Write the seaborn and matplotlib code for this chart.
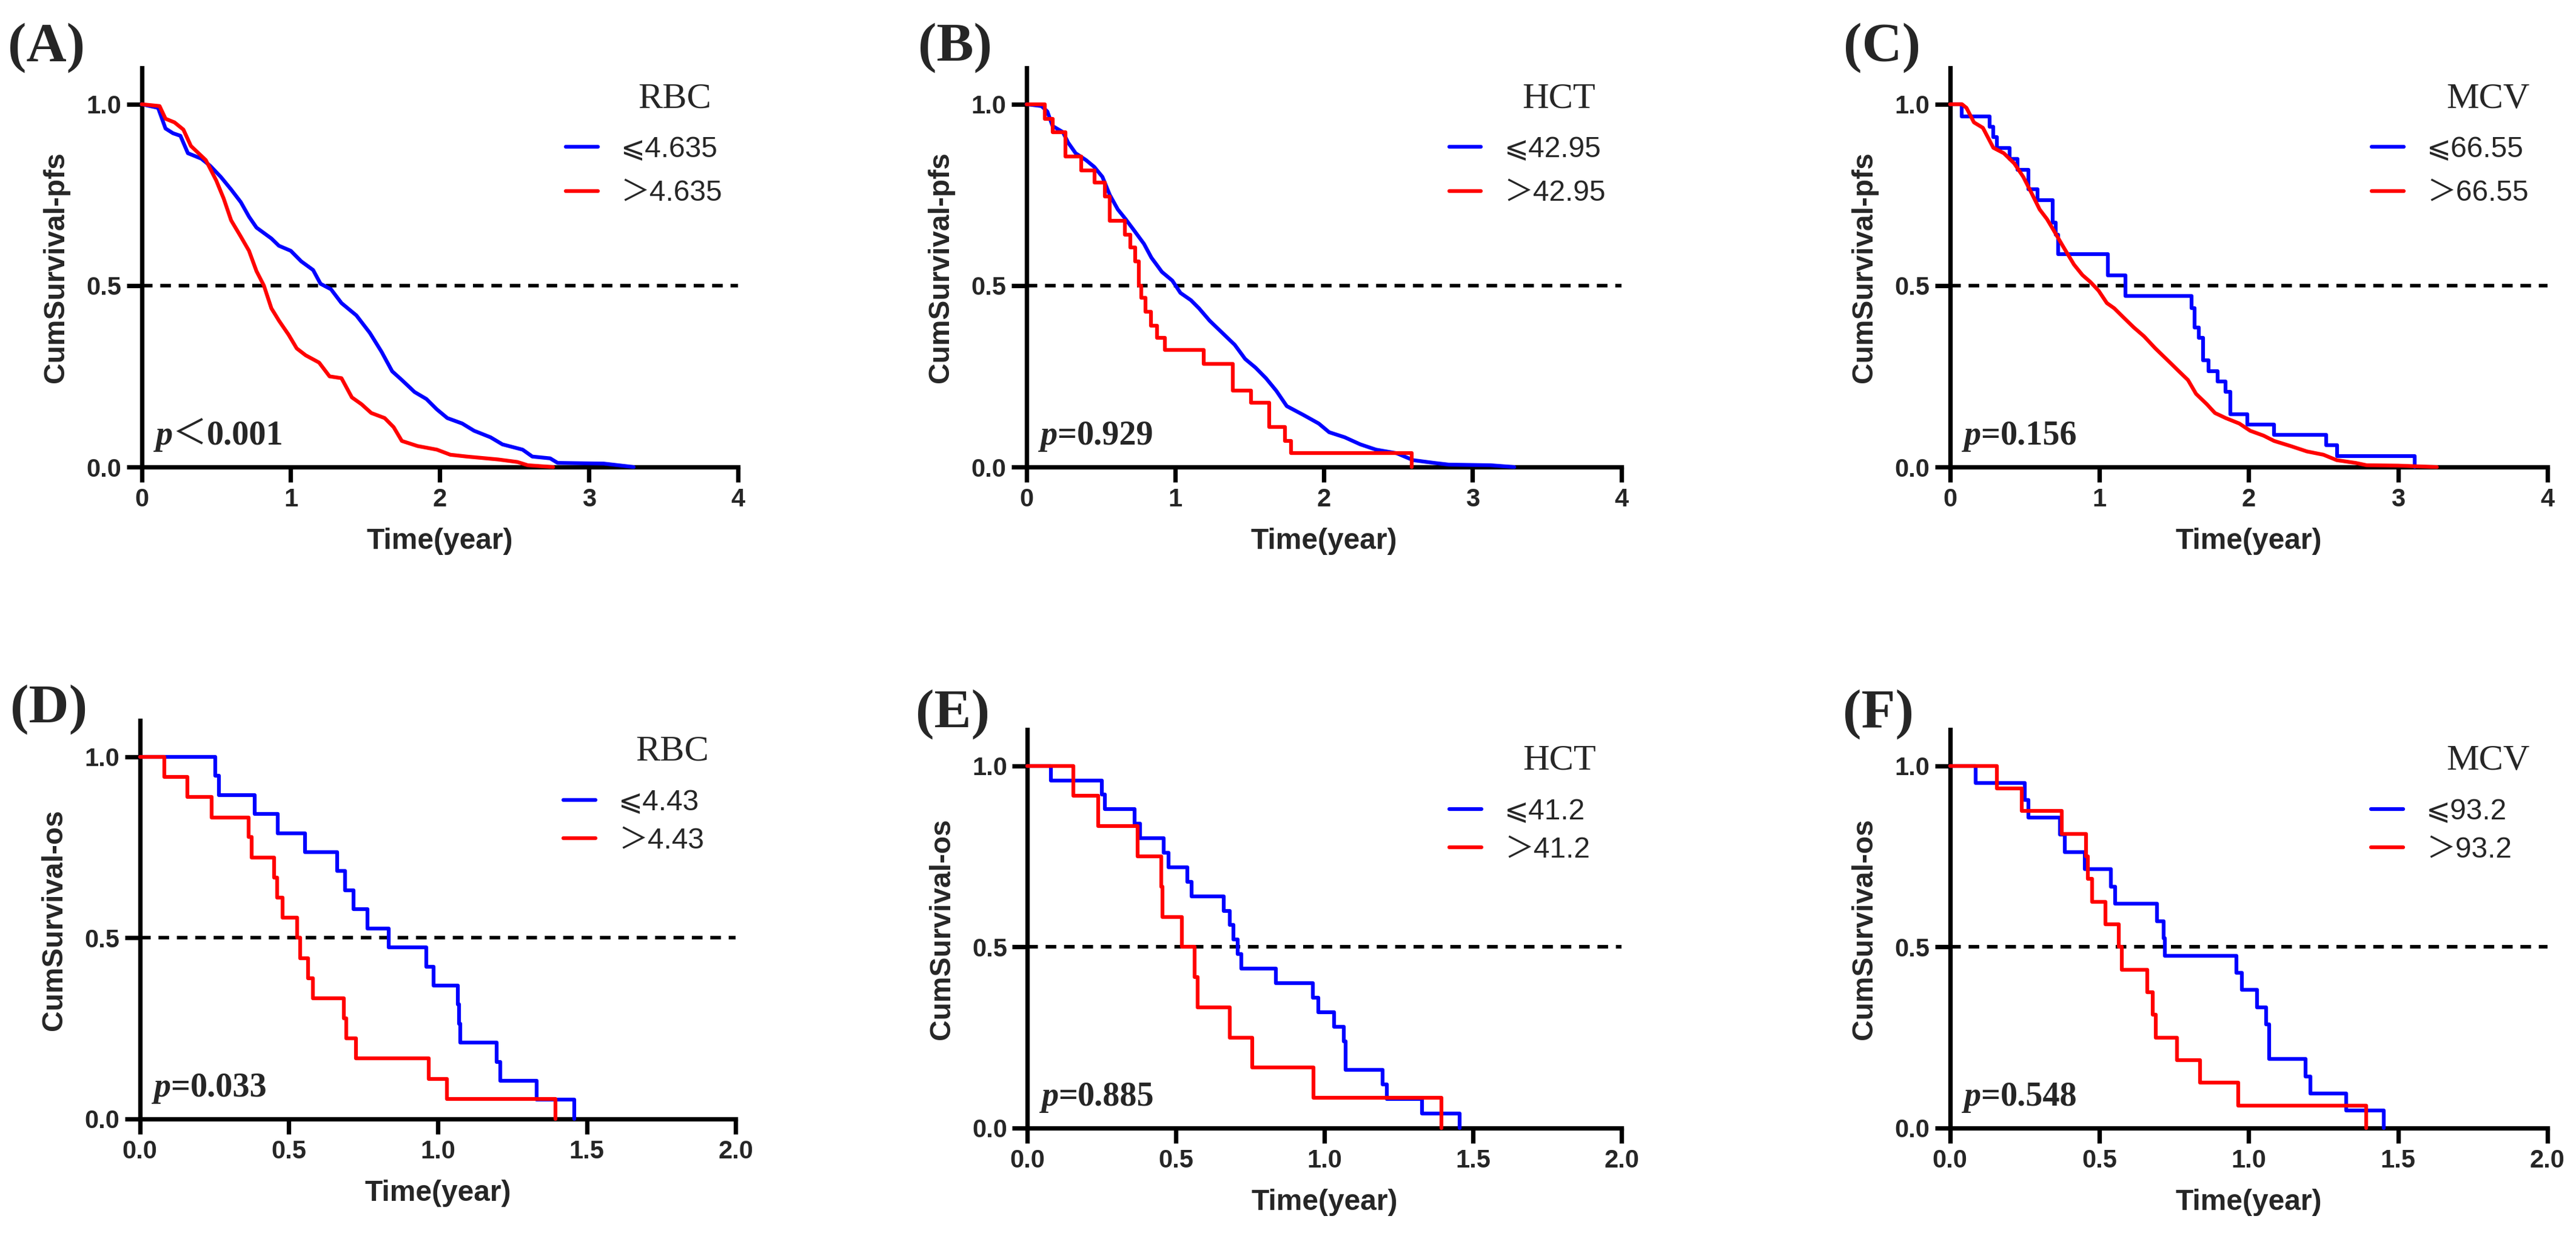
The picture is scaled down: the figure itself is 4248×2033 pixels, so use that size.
import matplotlib
matplotlib.use("Agg")
import matplotlib.pyplot as plt
import seaborn as sns
from matplotlib import font_manager, ft2font
from matplotlib.font_manager import FontProperties

# ---------------- data ----------------
# Panel A (RBC, pfs)
A_low_t = [0, 0.11, 0.16, 0.21, 0.26, 0.31, 0.40, 0.46, 0.53, 0.60, 0.665, 0.72, 0.77, 0.87, 0.92, 1.00, 1.07,
           1.15, 1.20, 1.27, 1.34, 1.44, 1.53, 1.61, 1.68, 1.745, 1.83, 1.91, 1.98, 2.05, 2.15, 2.23, 2.34, 2.42,
           2.555, 2.62, 2.74, 2.79, 3.10, 3.26, 3.30]
A_low_s = [1.0, 0.99, 0.933, 0.92, 0.913, 0.865, 0.85, 0.83, 0.80, 0.765, 0.73, 0.69, 0.66, 0.63, 0.61, 0.596, 0.567,
           0.543, 0.505, 0.49, 0.452, 0.418, 0.37, 0.317, 0.264, 0.24, 0.207, 0.1875, 0.159, 0.135, 0.12, 0.10, 0.082,
           0.0625, 0.048, 0.029, 0.024, 0.0115, 0.0096, 0.002, 0.0]
A_high_t = [0, 0.12, 0.16, 0.22, 0.28, 0.33, 0.43, 0.50, 0.55, 0.60, 0.665, 0.72, 0.77, 0.82, 0.87, 0.92, 0.985,
            1.04, 1.10, 1.19, 1.26, 1.34, 1.41, 1.475, 1.54, 1.63, 1.69, 1.745, 1.85, 1.98, 2.07, 2.18, 2.39, 2.52,
            2.59, 2.76]
A_high_s = [1.0, 0.995, 0.96, 0.95, 0.93, 0.885, 0.846, 0.79, 0.74, 0.68, 0.635, 0.596, 0.54, 0.50, 0.4375, 0.404,
            0.365, 0.327, 0.308, 0.288, 0.25, 0.245, 0.192, 0.173, 0.149, 0.135, 0.11, 0.072, 0.058, 0.048, 0.034,
            0.029, 0.021, 0.014, 0.005, 0.0]
# Panel B (HCT, pfs)
B_low_t = [0, 0.10, 0.14, 0.175, 0.245, 0.28, 0.33, 0.40, 0.456, 0.51, 0.56, 0.614, 0.667, 0.72, 0.79, 0.84, 0.91,
           0.98, 1.035, 1.105, 1.16, 1.23, 1.316, 1.40, 1.47, 1.54, 1.61, 1.68, 1.75, 1.86, 1.965, 2.035, 2.14,
           2.245, 2.35, 2.49, 2.60, 2.74, 2.84, 3.12, 3.28]
B_low_s = [1, 0.995, 0.98, 0.94, 0.923, 0.894, 0.865, 0.846, 0.827, 0.80, 0.75, 0.71, 0.683, 0.654, 0.615, 0.577,
           0.538, 0.514, 0.48, 0.46, 0.4375, 0.404, 0.37, 0.337, 0.298, 0.274, 0.245, 0.21, 0.168, 0.144, 0.12,
           0.096, 0.082, 0.0625, 0.048, 0.038, 0.019, 0.0115, 0.0067, 0.005, 0.0]
B_high_t = [0, 0.123, 0.175, 0.263, 0.368, 0.456, 0.526, 0.561, 0.66, 0.70, 0.73, 0.754, 0.77, 0.80, 0.835, 0.877,
            0.93, 1.193, 1.386, 1.509, 1.63, 1.737, 1.78, 2.59]
B_high_s = [1, 0.96, 0.923, 0.856, 0.817, 0.784, 0.745, 0.678, 0.64, 0.606, 0.567, 0.50, 0.466, 0.428, 0.39, 0.356,
            0.322, 0.284, 0.2115, 0.178, 0.11, 0.072, 0.038, 0.0]
# Panel C (MCV, pfs)
C_low_t = [0, 0.08, 0.264, 0.29, 0.315, 0.40, 0.45, 0.525, 0.586, 0.688, 0.706, 0.724, 1.057, 1.176, 1.618, 1.636,
           1.665, 1.694, 1.73, 1.79, 1.846, 1.875, 1.99, 2.17, 2.52, 2.59, 3.11]
C_low_s = [1, 0.966, 0.9375, 0.909, 0.88, 0.85, 0.82, 0.765, 0.7356, 0.673, 0.64, 0.5865, 0.529, 0.471, 0.4375,
           0.385, 0.356, 0.294, 0.264, 0.236, 0.207, 0.146, 0.117, 0.088, 0.0596, 0.031, 0.0]
C_high_t = [0, 0.08, 0.11, 0.16, 0.22, 0.29, 0.36, 0.43, 0.49, 0.54, 0.60, 0.65, 0.706, 0.76, 0.83, 0.887, 0.94,
            0.995, 1.05, 1.10, 1.16, 1.23, 1.30, 1.375, 1.448, 1.52, 1.593, 1.647, 1.72, 1.774, 1.846, 1.937, 2.01,
            2.10, 2.17, 2.28, 2.39, 2.50, 2.59, 2.715, 2.79, 3.0, 3.26]
C_high_s = [1, 1, 0.99, 0.95, 0.935, 0.88, 0.865, 0.837, 0.80, 0.76, 0.71, 0.683, 0.644, 0.606, 0.558, 0.529, 0.51,
            0.486, 0.452, 0.4375, 0.413, 0.385, 0.36, 0.327, 0.298, 0.269, 0.24, 0.202, 0.173, 0.149, 0.135, 0.12,
            0.10, 0.0865, 0.072, 0.058, 0.043, 0.034, 0.019, 0.0115, 0.005, 0.004, 0.0]
# Panel D (RBC, os)
D_low_t = [0, 0.253, 0.265, 0.386, 0.462, 0.555, 0.662, 0.689, 0.717, 0.763, 0.835, 0.962, 0.986, 1.067, 1.072,
           1.075, 1.197, 1.21, 1.332, 1.458]
D_low_s = [1, 0.947, 0.895, 0.842, 0.789, 0.737, 0.684, 0.632, 0.579, 0.526, 0.474, 0.421, 0.368, 0.316, 0.263,
           0.211, 0.158, 0.105, 0.053, 0]
D_high_t = [0, 0.083, 0.16, 0.24, 0.366, 0.375, 0.45, 0.46, 0.48, 0.527, 0.538, 0.565, 0.58, 0.684, 0.692, 0.726,
            0.969, 1.03, 1.396]
D_high_s = [1, 0.944, 0.889, 0.833, 0.778, 0.722, 0.667, 0.611, 0.556, 0.5, 0.444, 0.389, 0.333, 0.278, 0.222,
            0.167, 0.111, 0.056, 0]
# Panel E (HCT, os)
E_low_t = [0, 0.079, 0.251, 0.26, 0.362, 0.38, 0.459, 0.476, 0.538, 0.552, 0.661, 0.682, 0.694, 0.708, 0.72, 0.837,
           0.96, 0.98, 1.033, 1.065, 1.072, 1.195, 1.209, 1.329, 1.455]
E_low_s = [1, 0.96, 0.92, 0.88, 0.84, 0.80, 0.76, 0.72, 0.68, 0.64, 0.60, 0.56, 0.52, 0.48, 0.44, 0.40, 0.36, 0.32,
           0.28, 0.24, 0.16, 0.12, 0.08, 0.04, 0]
E_high_t = [0, 0.155, 0.239, 0.371, 0.45, 0.455, 0.52, 0.563, 0.573, 0.682, 0.757, 0.963, 1.394]
E_high_s = [1, 0.917, 0.833, 0.75, 0.667, 0.583, 0.5, 0.417, 0.333, 0.25, 0.167, 0.083, 0]
# Panel F (MCV, os)
F_low_t = [0, 0.085, 0.25, 0.262, 0.367, 0.384, 0.452, 0.539, 0.552, 0.693, 0.715, 0.72, 0.959, 0.977, 1.028,
           1.059, 1.068, 1.19, 1.207, 1.327, 1.453]
F_low_s = [1, 0.952, 0.905, 0.857, 0.810, 0.762, 0.714, 0.667, 0.619, 0.571, 0.524, 0.476, 0.429, 0.381, 0.333,
           0.286, 0.190, 0.143, 0.095, 0.048, 0]
F_high_t = [0, 0.157, 0.24, 0.375, 0.456, 0.462, 0.476, 0.52, 0.565, 0.576, 0.661, 0.679, 0.688, 0.76, 0.836,
            0.965, 1.394]
F_high_s = [1, 0.9375, 0.875, 0.8125, 0.75, 0.6875, 0.625, 0.5625, 0.5, 0.4375, 0.375, 0.3125, 0.25, 0.1875,
            0.125, 0.0625, 0]

panel_letters = ["(A)", "(B)", "(C)", "(D)", "(E)", "(F)"]
variables = ["RBC", "HCT", "MCV", "RBC", "HCT", "MCV"]
cutoffs = ["4.635", "42.95", "66.55", "4.43", "41.2", "93.2"]
p_relations = ["＜", "=", "=", "=", "=", "="]
p_values = ["0.001", "0.929", "0.156", "0.033", "0.885", "0.548"]
y_labels = ["CumSurvival-pfs"] * 3 + ["CumSurvival-os"] * 3
x_label = "Time(year)"
top_xticks = [0, 1, 2, 3, 4]
top_xticklabels = ["0", "1", "2", "3", "4"]
bot_xticks = [0, 0.5, 1.0, 1.5, 2.0]
bot_xticklabels = ["0.0", "0.5", "1.0", "1.5", "2.0"]
yticks = [0.0, 0.5, 1.0]
yticklabels = ["0.0", "0.5", "1.0"]

curves = [
    (A_low_t, A_low_s, A_high_t, A_high_s, ("line", "line")),
    (B_low_t, B_low_s, B_high_t, B_high_s, ("line", "step")),
    (C_low_t, C_low_s, C_high_t, C_high_s, ("step", "line")),
    (D_low_t, D_low_s, D_high_t, D_high_s, ("step", "step")),
    (E_low_t, E_low_s, E_high_t, E_high_s, ("step", "step")),
    (F_low_t, F_low_s, F_high_t, F_high_s, ("step", "step")),
]

# ---------------- fonts ----------------
sns.set_style("ticks")
plt.rcParams["font.family"] = ["Liberation Sans", "Noto Sans CJK SC", "DejaVu Sans"]


def font_has(family, ch):
    try:
        path = font_manager.findfont(FontProperties(family=family), fallback_to_default=False)
        return ord(ch) in ft2font.FT2Font(path).get_charmap()
    except Exception:
        return False


LE = "≤"
le_fam = []
for fam in ("Noto Sans CJK SC", "DejaVu Sans"):
    if font_has(fam, "\u2A7D"):
        LE = "\u2A7D"
        le_fam = [fam]
        break
leg_family = ["Liberation Sans"] + le_fam + ["Noto Sans CJK SC", "DejaVu Sans"]
low_labels = [LE + c for c in cutoffs]
high_labels = ["＞" + c for c in cutoffs]

# ---------------- layout / style ----------------
BLUE = "#0000FF"
RED = "#FF0000"
LW_CURVE = 1.5
LW_SPINE = 1.75

fig = plt.figure(figsize=(4248 / 300, 2033 / 300), dpi=300)

positions = [
    [0.0550, 0.6212, 0.2315, 0.3237],
    [0.3985, 0.6212, 0.2309, 0.3237],
    [0.7570, 0.6212, 0.2319, 0.3237],
    [0.0543, 0.0925, 0.2313, 0.3231],
    [0.3988, 0.0851, 0.2307, 0.3232],
    [0.7570, 0.0851, 0.2319, 0.3232],
]
letter_pos = [(0.003, 0.9506), (0.3565, 0.9506), (0.7157, 0.9506),
              (0.004, 0.4137), (0.3555, 0.410), (0.7155, 0.410)]
title_x = [0.894, 0.895, 0.901, 0.894, 0.895, 0.901]
handle_x = [0.711, 0.7105, 0.706, 0.711, 0.710, 0.705]

fp_tick = FontProperties(family=["Liberation Sans"], weight="bold", size=10)
fp_label = FontProperties(family=["Liberation Sans"], weight="bold", size=11.5)
fp_letter = FontProperties(family=["Liberation Serif"], weight="bold", size=22)
fp_title = FontProperties(family=["Liberation Serif"], size=14.5)
fp_leg = FontProperties(family=leg_family, size=11.5)
fp_p = FontProperties(family=["Liberation Serif"], style="italic", weight="bold", size=13.5)
fp_num = FontProperties(family=["Liberation Serif"], weight="bold", size=13.5)
fp_lt = FontProperties(family=["Noto Sans CJK SC", "DejaVu Sans"], weight="light", size=13.5)

for i, pos in enumerate(positions):
    ax = fig.add_axes(pos)
    lt, ls, ht, hs, kinds = curves[i]
    handles = []
    for t, s, col, kind in ((lt, ls, BLUE, kinds[0]), (ht, hs, RED, kinds[1])):
        kw = dict(drawstyle="steps-post") if kind == "step" else {}
        sns.lineplot(x=t, y=s, ax=ax, color=col, linewidth=LW_CURVE, estimator=None, sort=False,
                     clip_on=False, zorder=3, **kw)
        handles.append(ax.lines[-1])
    ax.axhline(0.5, color="black", lw=1.4, dashes=(3.0, 2.2), zorder=2)

    top = i < 3
    ax.set_xlim(0, 4 if top else 2)
    ax.set_ylim(0, 1.1)
    ax.set_xticks(top_xticks if top else bot_xticks)
    ax.set_xticklabels(top_xticklabels if top else bot_xticklabels, fontproperties=fp_tick)
    ax.set_yticks(yticks)
    ax.set_yticklabels(yticklabels, fontproperties=fp_tick)
    for sp in ("top", "right"):
        ax.spines[sp].set_visible(False)
    for sp in ("left", "bottom"):
        ax.spines[sp].set_linewidth(LW_SPINE)
        ax.spines[sp].set_color("black")
        ax.spines[sp].set_capstyle("projecting")
    ax.tick_params(axis="both", width=LW_SPINE, length=6, color="black")
    ax.tick_params(axis="x", pad=2.2)
    ax.tick_params(axis="y", pad=2.0)

    ax.set_xlabel(x_label, fontproperties=fp_label)
    ax.set_ylabel(y_labels[i], fontproperties=fp_label)
    ax.xaxis.set_label_coords(0.5, -0.152)
    ax.yaxis.set_label_coords(-0.121, 0.5)

    # legend
    ax.text(title_x[i], 0.90, variables[i], transform=ax.transAxes, ha="center", va="baseline",
            fontproperties=fp_title)
    ax.legend(handles=handles, labels=[low_labels[i], high_labels[i]], loc="center left",
              bbox_to_anchor=(handle_x[i], 0.7405 if top else 0.746), bbox_transform=ax.transAxes,
              frameon=False, borderpad=0, borderaxespad=0, handlelength=1.1, handletextpad=0.8,
              labelspacing=0.58 if top else 0.38, prop=fp_leg)

    # p value: italic p, relation sign, bold number
    tp = ax.text(0.023, 0.057, "p", transform=ax.transAxes, ha="left", va="baseline", fontproperties=fp_p)
    rel = p_relations[i]
    tr = ax.annotate(rel, xy=(1.0, 0.057), xycoords=(tp, "axes fraction"), ha="left", va="baseline",
                     fontproperties=fp_lt if rel == "＜" else fp_num)
    ax.annotate(p_values[i], xy=(1.0, 0.057), xycoords=(tr, "axes fraction"), ha="left", va="baseline",
                fontproperties=fp_num)

    fig.text(letter_pos[i][0], letter_pos[i][1], panel_letters[i], ha="left", va="baseline",
             fontproperties=fp_letter)

fig.savefig("out.png", dpi=300, facecolor="white")
